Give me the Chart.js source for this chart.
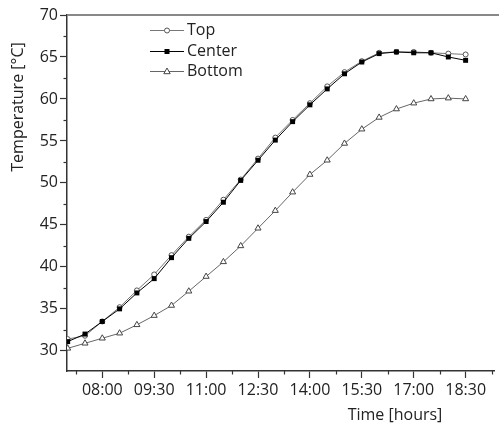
<!DOCTYPE html>
<html>
<head>
<meta charset="utf-8">
<script src="https://cdn.jsdelivr.net/npm/chart.js@4/dist/chart.umd.min.js"></script>
<style>
  html, body { margin: 0; padding: 0; background: #fff; }
  #wrap { width: 499px; height: 423px; position: relative; }
</style>
</head>
<body>
<div id="wrap"><canvas id="c" width="499" height="423"></canvas></div>
<script>
// ---- data ----
const times = ['07:00','07:30','08:00','08:30','09:00','09:30','10:00','10:30','11:00','11:30','12:00','12:30',
               '13:00','13:30','14:00','14:30','15:00','15:30','16:00','16:30','17:00','17:30','18:00','18:30'];
const topTemps    = [31.4, 31.8, 33.5, 35.2, 37.2, 39.1, 41.4, 43.6, 45.6, 48.0, 50.4, 52.9,
                     55.4, 57.5, 59.5, 61.5, 63.2, 64.5, 65.5, 65.6, 65.6, 65.5, 65.4, 65.3];
const centerTemps = [31.1, 32.0, 33.5, 35.0, 36.9, 38.6, 41.1, 43.4, 45.4, 47.7, 50.3, 52.7,
                     55.1, 57.3, 59.3, 61.2, 63.0, 64.4, 65.4, 65.6, 65.5, 65.5, 65.0, 64.6];
const bottomTemps = [30.3, 30.9, 31.5, 32.1, 33.1, 34.2, 35.4, 37.1, 38.85, 40.6, 42.5, 44.6,
                     46.7, 48.9, 51.0, 52.7, 54.7, 56.4, 57.8, 58.8, 59.5, 60.0, 60.1, 60.0];
const xTickLabels = ['08:00','09:30','11:00','12:30','14:00','15:30','17:00','18:30'];
const seriesNames = ['Top','Center','Bottom'];

const toHours = s => { const p = s.split(':'); return +p[0] + (+p[1]) / 60; };
const xTickValues = xTickLabels.map(toHours);
const xMinorValues = [7.25].concat(xTickValues.map(v => v + 0.75));

const FONT = '"Open Sans", "DejaVu Sans", sans-serif';
const TXT = '#222';
const AX = '#333';

function pts(vals) { return times.map((t, i) => ({ x: toHours(t), y: vals[i] })); }

function drawMarker(ctx, kind, x, y) {
  ctx.save();
  ctx.lineWidth = 1;
  if (kind === 'circle') {
    ctx.fillStyle = '#fff'; ctx.strokeStyle = '#555';
    ctx.beginPath(); ctx.arc(x, y, 2.5, 0, Math.PI * 2); ctx.fill(); ctx.stroke();
  } else if (kind === 'rect') {
    ctx.fillStyle = '#000';
    ctx.fillRect(x - 2.5, y - 2.5, 5, 5);
  } else {
    ctx.fillStyle = '#fff'; ctx.strokeStyle = '#444';
    ctx.beginPath(); ctx.moveTo(x, y - 3.5); ctx.lineTo(x + 3.2, y + 2.2); ctx.lineTo(x - 3.2, y + 2.2);
    ctx.closePath(); ctx.fill(); ctx.stroke();
  }
  ctx.restore();
}

const decor = {
  id: 'decor',
  afterDraw(chart) {
    const ctx = chart.ctx, a = chart.chartArea;
    const xs = chart.scales.x, ys = chart.scales.y;
    ctx.save();
    // top frame line
    ctx.strokeStyle = '#888'; ctx.lineWidth = 2;
    ctx.beginPath(); ctx.moveTo(a.left, a.top); ctx.lineTo(499, a.top); ctx.stroke();
    // minor ticks
    ctx.strokeStyle = AX; ctx.lineWidth = 1.2;
    for (let v = 27.5; v <= 70; v += 2.5) {
      if (v % 5 === 0 || v < ys.min) continue;
      const py = Math.round(ys.getPixelForValue(v)) + 0.5;
      ctx.beginPath(); ctx.moveTo(a.left, py); ctx.lineTo(a.left - 3.5, py); ctx.stroke();
    }
    xMinorValues.forEach(v => {
      if (v > xs.max) return;
      const px = Math.round(xs.getPixelForValue(v)) + 0.5;
      ctx.beginPath(); ctx.moveTo(px, a.bottom); ctx.lineTo(px, a.bottom + 3.5); ctx.stroke();
    });
    // axis titles
    ctx.fillStyle = TXT;
    ctx.font = '16px ' + FONT;
    ctx.textAlign = 'center'; ctx.textBaseline = 'middle';
    ctx.fillText('Time [hours]', 395, 415);
    ctx.save();
    ctx.translate(18, 107); ctx.rotate(-Math.PI / 2);
    ctx.fillText('Temperature [°C]', 0, 0);
    ctx.restore();
    // legend
    const kinds = ['circle', 'rect', 'tri'];
    const lcols = ['#777', '#000', '#666'];
    const ly = [30, 51, 71];
    seriesNames.forEach((name, i) => {
      ctx.strokeStyle = lcols[i]; ctx.lineWidth = 1;
      ctx.beginPath(); ctx.moveTo(150, ly[i] + 0.5); ctx.lineTo(184, ly[i] + 0.5); ctx.stroke();
      drawMarker(ctx, kinds[i], 167, ly[i] + 0.5);
      ctx.fillStyle = TXT; ctx.textAlign = 'left'; ctx.textBaseline = 'middle';
      ctx.font = '16px ' + FONT;
      ctx.fillText(name, 187, ly[i]);
    });
    ctx.restore();
  }
};

new Chart(document.getElementById('c'), {
  type: 'line',
  data: {
    datasets: [
      { label: seriesNames[1], data: pts(centerTemps), order: 0,
        borderColor: '#000', borderWidth: 1, pointStyle: 'rect', pointRadius: 3.5,
        pointBackgroundColor: '#000', pointBorderColor: '#000', pointBorderWidth: 0 },
      { label: seriesNames[0], data: pts(topTemps), order: 1,
        borderColor: '#777', borderWidth: 1, pointStyle: 'circle', pointRadius: 2.5,
        pointBackgroundColor: '#fff', pointBorderColor: '#555', pointBorderWidth: 1 },
      { label: seriesNames[2], data: pts(bottomTemps), order: 2,
        borderColor: '#666', borderWidth: 1, pointStyle: 'triangle', pointRadius: 3.5,
        pointBackgroundColor: '#fff', pointBorderColor: '#444', pointBorderWidth: 1 }
    ]
  },
  options: {
    responsive: false,
    animation: false,
    layout: { padding: { top: 15, right: 1, left: 0, bottom: 0 } },
    plugins: { legend: { display: false }, tooltip: { enabled: false } },
    elements: { line: { tension: 0 } },
    scales: {
      x: {
        type: 'linear', min: 6.98, max: 19.32,
        afterBuildTicks: s => { s.ticks = xTickValues.map(v => ({ value: v })); },
        afterFit: s => { s.height = 52; },
        grid: { drawOnChartArea: false, tickLength: 7, tickColor: AX, tickWidth: 1.2 },
        border: { color: AX, width: 1.5 },
        ticks: { autoSkip: false, maxRotation: 0, padding: 3, color: TXT, font: { family: FONT, size: 16 },
                 callback: (v) => { const i = xTickValues.indexOf(v); return i >= 0 ? xTickLabels[i] : ''; } }
      },
      y: {
        type: 'linear', min: 27.6, max: 70,
        afterFit: s => { s.width = 67; },
        grid: { drawOnChartArea: false, tickLength: 7, tickColor: AX, tickWidth: 1.2 },
        border: { color: AX, width: 1.5 },
        ticks: { stepSize: 5, includeBounds: false, padding: 2, color: TXT, font: { family: FONT, size: 16 } }
      }
    }
  },
  plugins: [decor]
});
</script>
</body>
</html>
